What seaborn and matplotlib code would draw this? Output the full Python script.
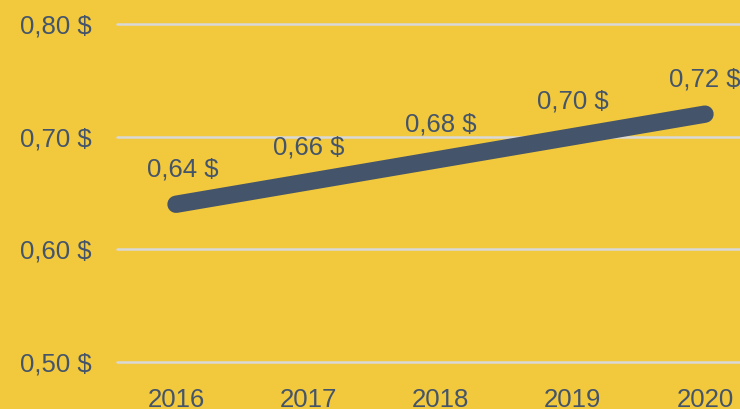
import matplotlib
matplotlib.use("Agg")
import matplotlib.pyplot as plt
import seaborn as sns
import pandas as pd

years = ["2016", "2017", "2018", "2019", "2020"]
prices = [0.64, 0.66, 0.68, 0.70, 0.72]
yticks = [0.50, 0.60, 0.70, 0.80]

bg = "#F2C83C"
ink = "#44546A"

sns.set_theme(style="white")
plt.rcParams["font.family"] = ["Liberation Sans", "DejaVu Sans"]

fig = plt.figure(figsize=(7.40, 4.09), dpi=100, facecolor=bg)
ax = fig.add_axes([117/740, 1 - 362/409, (740 - 117)/740, (362 - 24)/409])
ax.set_facecolor(bg)

df = pd.DataFrame({"year": years, "price": prices})
sns.lineplot(data=df, x="year", y="price", ax=ax, color=ink, linewidth=12.5,
             solid_capstyle="round", sort=False, zorder=3)

for i, (x, v) in enumerate(zip(years, prices)):
    ax.annotate(f"{v:.2f} $".replace(".", ","), (i, v), xytext=(5 if i == 0 else 0, 25),
                textcoords="offset points", ha="center", va="center",
                fontsize=18.5, color=ink, zorder=4)

ax.set_ylim(0.50, 0.80)
ax.set_xlim(-59/132.25, 4 + 35/132.25)
ax.set_yticks(yticks)
ax.set_yticklabels([f"{t:.2f} $".replace(".", ",") for t in yticks])
ax.set_xlabel("")
ax.set_ylabel("")
ax.grid(axis="y", color="#D9D9D9", linewidth=1.8, zorder=0)
ax.grid(axis="x", visible=False)
for gl in ax.get_ygridlines():
    gl.set_clip_on(False)
for s in ax.spines.values():
    s.set_visible(False)
ax.tick_params(axis="both", length=0, labelsize=18.5, labelcolor=ink)
ax.tick_params(axis="y", pad=18)
ax.tick_params(axis="x", pad=19)
for ln in ax.lines:
    ln.set_clip_on(False)

fig.savefig("out.png", dpi=100, facecolor=bg)
